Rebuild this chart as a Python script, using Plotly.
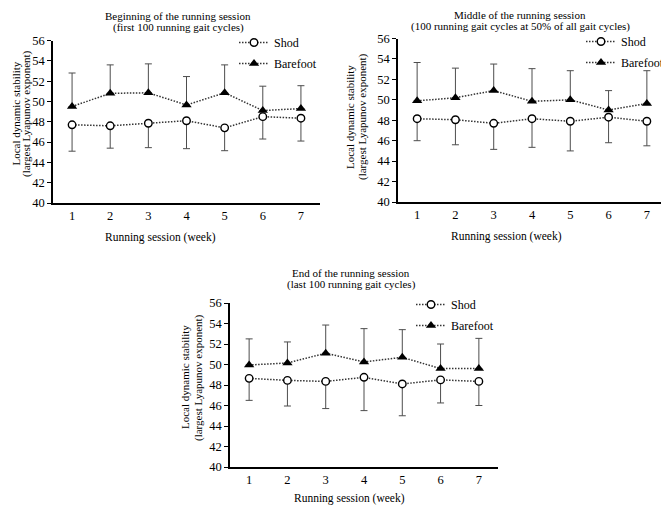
import plotly.graph_objects as go

weeks = [1, 2, 3, 4, 5, 6, 7]

# Beginning of the running session
begin_shod = [47.7, 47.6, 47.85, 48.1, 47.4, 48.5, 48.35]
begin_shod_sd = [2.6, 2.2, 2.4, 2.75, 2.25, 2.2, 2.25]
begin_bare = [49.5, 50.8, 50.85, 49.65, 50.85, 49.1, 49.3]
begin_bare_sd = [3.3, 2.8, 2.85, 2.8, 2.75, 2.4, 2.25]

# Middle of the running session
mid_shod = [48.15, 48.05, 47.7, 48.15, 47.9, 48.3, 47.9]
mid_shod_sd = [2.15, 2.45, 2.55, 2.8, 2.9, 2.5, 2.4]
mid_bare = [49.9, 50.2, 50.9, 49.85, 50.0, 49.0, 49.65]
mid_bare_sd = [3.75, 2.9, 2.6, 3.2, 2.85, 1.9, 3.2]

# End of the running session
end_shod = [48.65, 48.45, 48.35, 48.75, 48.1, 48.5, 48.35]
end_shod_sd = [2.15, 2.5, 2.65, 3.25, 3.1, 2.25, 2.35]
end_bare = [49.95, 50.15, 51.1, 50.25, 50.7, 49.6, 49.6]
end_bare_sd = [2.55, 2.05, 2.75, 3.25, 2.7, 2.4, 2.95]

title_lines = [
    ('Beginning of the running session', '(first 100 running gait cycles)'),
    ('Middle of the running session',
     '(100 running gait cycles at 50% of all gait cycles)'),
    ('End of the running session', '(last 100 running gait cycles)'),
]

# the page body has an 8px margin, so the figure is drawn 8px in
OFF = 8
W, H = 669 - OFF, 508 - OFF
FONT = 'Liberation Serif'
LINE_C = '#333333'
ERR_C = '#4d4d4d'


def px(x):
    return (x - OFF) / W


def py(y):
    return (H - (y - OFF)) / H


# positions below are in window pixels
boxes = [(53, 320, 40.5, 203), (398, 666, 38.5, 202), (230, 498, 303, 467)]
legend_pos = [(322, 28), (669, 27), (499, 290)]
title_pos = [(178, 15.5, 27), (520, 15, 26.5), (351, 273, 284)]
xtitle_pos = [(160, 238), (506, 237), (350, 498)]
ytitle_pos = [(15.5, 27, 114), (350, 363, 117), (185, 198, 377)]

panels = [
    (begin_shod, begin_shod_sd, begin_bare, begin_bare_sd),
    (mid_shod, mid_shod_sd, mid_bare, mid_bare_sd),
    (end_shod, end_shod_sd, end_bare, end_bare_sd),
]

fig = go.Figure()
layout = {}
annotations = []


def note(text, x, y, size, angle=0):
    annotations.append(dict(
        text=text, x=px(x), y=py(y), xref='paper', yref='paper',
        xanchor='center', yanchor='middle', showarrow=False, textangle=angle,
        borderpad=0, font=dict(family=FONT, size=size, color='black'),
    ))


for i, (shod, shod_sd, bare, bare_sd) in enumerate(panels):
    n = '' if i == 0 else str(i + 1)
    xa, ya, lg = 'x' + n, 'y' + n, 'legend' + n
    zeros = [0] * len(weeks)

    fig.add_trace(go.Scatter(
        x=weeks, y=shod, name='Shod', xaxis=xa, yaxis=ya, legend=lg,
        legendgroup='shod' + n, mode='lines+markers',
        line=dict(color=LINE_C, width=1.5, dash='1.5px,1.5px'),
        marker=dict(symbol='circle', size=7.5, color='white',
                    line=dict(color='black', width=1.4)),
        error_y=dict(type='data', symmetric=False, array=zeros,
                     arrayminus=shod_sd, color=ERR_C, thickness=1, width=3.5),
    ))
    fig.add_trace(go.Scatter(
        x=weeks, y=bare, name='Barefoot', xaxis=xa, yaxis=ya, legend=lg,
        legendgroup='bare' + n, mode='lines+markers',
        line=dict(color=LINE_C, width=1.5, dash='1.5px,1.5px'),
        marker=dict(symbol='triangle-up', size=9, color='black'),
        error_y=dict(type='data', symmetric=False, array=bare_sd,
                     arrayminus=zeros, color=ERR_C, thickness=1, width=3.5),
    ))

    l, r, t, b = boxes[i]
    layout['xaxis' + n] = dict(
        domain=[px(l), px(r)], anchor=ya, range=[0.5, 7.5], automargin=False,
        tickvals=weeks, ticks='', showline=True, linecolor='black',
        linewidth=1.5, showgrid=False, zeroline=False,
        tickfont=dict(family=FONT, size=12.5, color='black'),
    )
    layout['yaxis' + n] = dict(
        domain=[py(b), py(t)], anchor=xa, range=[40, 56], dtick=2,
        automargin=False,
        ticks='outside', ticklen=4, tickcolor='black', showline=True,
        linecolor='black', linewidth=1.5, showgrid=False, zeroline=False,
        tickfont=dict(family=FONT, size=12.5, color='black'),
    )
    lx, ly = legend_pos[i]
    layout[lg] = dict(
        x=min(px(lx), 1), y=py(ly), xanchor='right', yanchor='top',
        bgcolor='rgba(0,0,0,0)', tracegroupgap=2, traceorder='grouped',
        font=dict(family=FONT, size=12, color='black'),
    )

    tx, ty1, ty2 = title_pos[i]
    note(title_lines[i][0], tx, ty1, 11)
    note(title_lines[i][1], tx, ty2, 11)
    xx, xy = xtitle_pos[i]
    note('Running session (week)', xx, xy, 11.5)
    y1, y2, yc = ytitle_pos[i]
    note('Local dynamic stability', y1, yc, 11, -90)
    note('(largest Lyapunov exponent)', y2, yc, 11, -90)

fig.update_layout(
    width=W, height=H,
    margin=dict(l=0, r=0, t=0, b=0, autoexpand=False),
    paper_bgcolor='white', plot_bgcolor='white',
    showlegend=True,
    annotations=annotations,
    font=dict(family=FONT, color='black'),
    **layout,
)

fig.write_html('out.html')
